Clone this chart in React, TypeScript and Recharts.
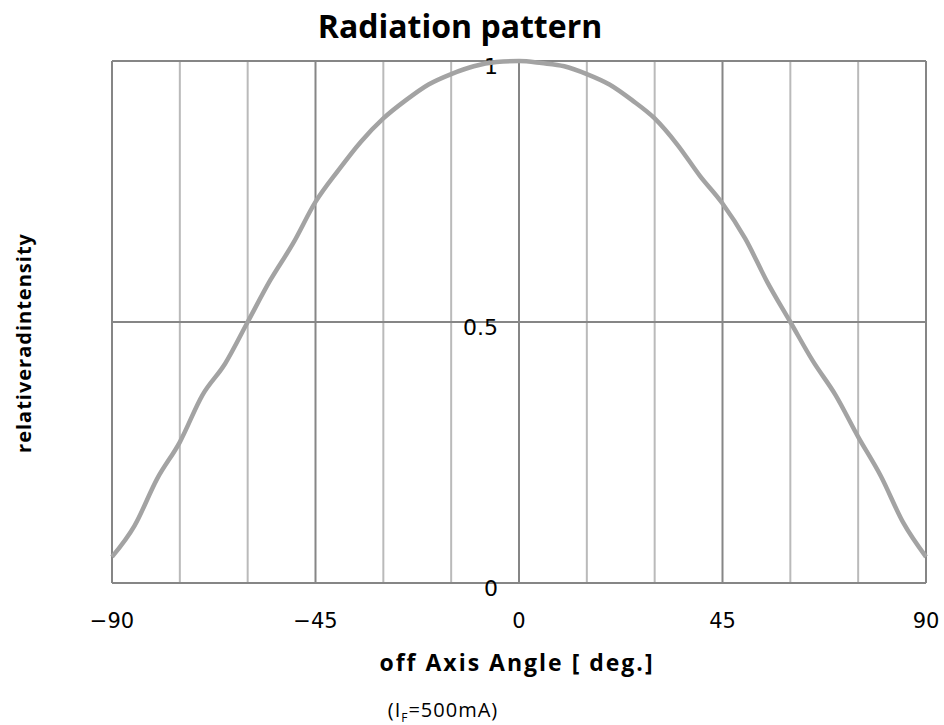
import React from "react"
import { LineChart, Line, XAxis, YAxis, ReferenceLine } from "recharts"

// off-axis angle (deg) and relative intensity
const angles = [-90, -85, -80, -75, -70, -65, -60, -55, -50, -45, -40, -35, -30, -25, -20, -15, -10, -5, 0,
  5, 10, 15, 20, 25, 30, 35, 40, 45, 50, 55, 60, 65, 70, 75, 80, 85, 90]
const intensity = [0.05, 0.11, 0.2, 0.27, 0.36, 0.42, 0.5, 0.58, 0.65, 0.73, 0.79, 0.845, 0.89, 0.925, 0.955, 0.975, 0.99, 0.998, 1,
  0.996, 0.99, 0.975, 0.955, 0.925, 0.89, 0.84, 0.78, 0.727, 0.66, 0.575, 0.5, 0.425, 0.36, 0.28, 0.205, 0.115, 0.05]

const xTicks = [-90, -45, 0, 45, 90]
const yTicks = [0, 0.5, 1]
const minorAngles = [-75, -60, -30, -15, 15, 30, 60, 75]
const majorAngles = [-90, -45, 0, 45, 90]

const data = angles.map((a, i) => ({ angle: a, value: intensity[i] }))

const MAJOR = "#868686"
const MINOR = "#bababa"
const tickFont = "'DejaVu Sans', sans-serif"
const textFont = "'Open Sans', sans-serif"

const fmtAngle = (v: number) => (v < 0 ? `\u2212${-v}` : `${v}`)

// Excel-style: value labels sit just left of the vertical axis at 0 deg
const valueLabel = (v: number) => (props: any) => {
  const vb = props.viewBox || {}
  return (
    <text x={vb.x + vb.width / 2 - 21} y={vb.y + 7} textAnchor="end" dominantBaseline="middle" fontFamily={tickFont} fontSize={22} fill="#000">
      {v}
    </text>
  )
}

export default function App() {
  return (
    <div style={{ position: "absolute", left: 0, top: 0, width: 944, height: 725, background: "#fff" }}>
      <LineChart width={944} height={725} data={data} margin={{ top: 61, right: 18, left: 112, bottom: 102 }}>
        <XAxis
          dataKey="angle"
          type="number"
          domain={[-90, 90]}
          ticks={xTicks}
          tickFormatter={fmtAngle}
          axisLine={false}
          tickLine={false}
          tickMargin={24}
          height={40}
          tick={{ fontFamily: tickFont, fontSize: 21, fill: "#000" }}
        />
        <YAxis type="number" domain={[0, 1]} ticks={yTicks} width={0} axisLine={false} tickLine={false} tick={false} />
        {minorAngles.map((a) => (
          <ReferenceLine key={`m${a}`} x={a} stroke={MINOR} strokeWidth={2} />
        ))}
        {majorAngles.map((a) => (
          <ReferenceLine key={`M${a}`} x={a} stroke={MAJOR} strokeWidth={2} />
        ))}
        {yTicks.map((v) => (
          <ReferenceLine key={`h${v}`} y={v} stroke={MAJOR} strokeWidth={2} label={valueLabel(v)} />
        ))}
        <Line type="monotone" dataKey="value" stroke="#a3a3a3" strokeWidth={4.5} dot={false} isAnimationActive={false} />
      </LineChart>

      <div style={{ position: "absolute", left: 0, width: 920, top: 4, textAlign: "center", fontFamily: textFont, fontWeight: 700, fontSize: 32, lineHeight: "44px" }}>
        Radiation pattern
      </div>
      <div style={{ position: "absolute", left: 23, top: 343, width: 0, height: 0 }}>
        <div style={{ position: "absolute", transform: "translate(-50%, -50%) rotate(-90deg)", whiteSpace: "nowrap", fontFamily: textFont, fontWeight: 700, fontSize: 20, letterSpacing: 1 }}>
          relativeradintensity
        </div>
      </div>
      <div style={{ position: "absolute", left: 0, width: 1034, top: 646, textAlign: "center", fontFamily: textFont, fontWeight: 700, fontSize: 23, letterSpacing: 2, lineHeight: "32px" }}>
        off Axis Angle [ deg.]
      </div>
      <div style={{ position: "absolute", left: 0, width: 886, top: 696, textAlign: "center", fontFamily: textFont, fontSize: 20, letterSpacing: 1, lineHeight: "28px" }}>
        (I<sub style={{ fontSize: 12 }}>F</sub>=500mA)
      </div>
    </div>
  )
}
